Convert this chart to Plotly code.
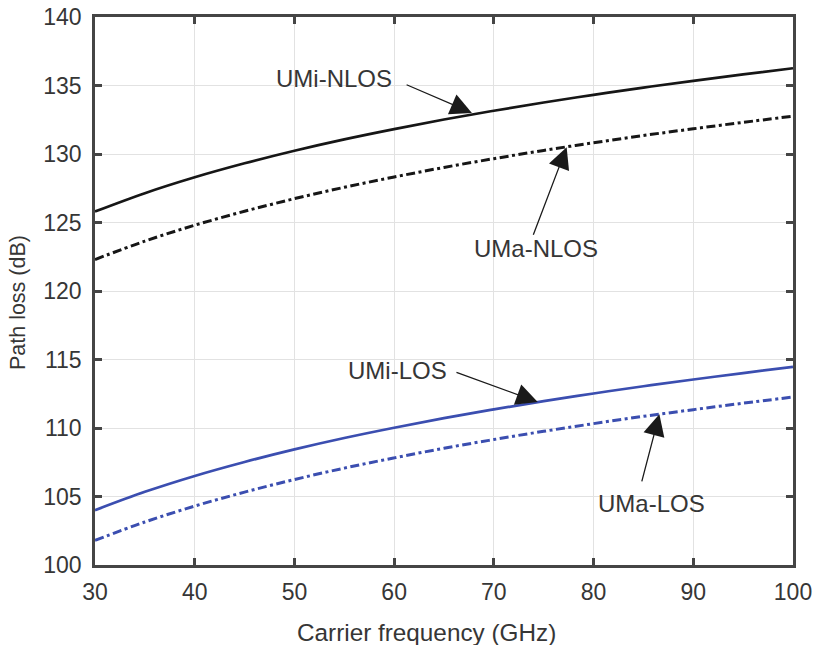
import plotly.graph_objects as go

# Carrier frequency (GHz)
freq = [30, 35, 40, 45, 50, 55, 60, 65, 70, 75, 80, 85, 90, 95, 100]

# Path loss (dB) for each scenario
umi_nlos = [125.80, 127.14, 128.30, 129.32, 130.24, 131.07, 131.82, 132.52, 133.16, 133.76, 134.32, 134.85, 135.34, 135.81, 136.26]
uma_nlos = [122.30, 123.64, 124.80, 125.82, 126.74, 127.57, 128.32, 129.02, 129.66, 130.26, 130.82, 131.35, 131.84, 132.31, 132.76]
umi_los = [104.00, 105.34, 106.50, 107.52, 108.44, 109.27, 110.02, 110.72, 111.36, 111.96, 112.52, 113.05, 113.54, 114.01, 114.46]
uma_los = [101.80, 103.14, 104.30, 105.32, 106.24, 107.07, 107.82, 108.52, 109.16, 109.76, 110.32, 110.85, 111.34, 111.81, 112.26]

# Curve labels
label_text = ["UMi-NLOS", "UMa-NLOS", "UMi-LOS", "UMa-LOS"]
label_x = [54.0, 74.2, 60.3, 85.8]
label_y = [135.5, 123.1, 114.2, 104.5]

# Pointer arrows: tail (near label) and tip (on the curve)
arrow_tail_x = [61.1, 73.9, 66.1, 84.8]
arrow_tail_y = [135.1, 124.0, 114.1, 106.0]
arrow_tip_x = [67.8, 77.3, 74.4, 86.6]
arrow_tip_y = [133.0, 130.5, 111.9, 111.0]

BLACK = "#161616"
BLUE = "#3b4eb0"
DASHDOT = "9px,3.5px,3px,3.5px"
TEXT = "#363636"
FONT = "Liberation Sans, Arial, sans-serif"

fig = go.Figure()
fig.add_trace(go.Scatter(x=freq, y=umi_nlos, mode="lines", line=dict(color=BLACK, width=2.7, shape="spline")))
fig.add_trace(go.Scatter(x=freq, y=uma_nlos, mode="lines", line=dict(color=BLACK, width=3, dash=DASHDOT, shape="spline")))
fig.add_trace(go.Scatter(x=freq, y=umi_los, mode="lines", line=dict(color=BLUE, width=2.7, shape="spline")))
fig.add_trace(go.Scatter(x=freq, y=uma_los, mode="lines", line=dict(color=BLUE, width=3, dash=DASHDOT, shape="spline")))

for tx, ty, hx, hy in zip(arrow_tail_x, arrow_tail_y, arrow_tip_x, arrow_tip_y):
    fig.add_annotation(
        x=hx, y=hy, ax=tx, ay=ty, axref="x", ayref="y", xref="x", yref="y",
        text="", showarrow=True, arrowhead=2, arrowsize=3.3, arrowwidth=1.3,
        arrowcolor="#1a1a1a",
    )

for text, lx, ly in zip(label_text, label_x, label_y):
    fig.add_annotation(
        x=lx, y=ly, xref="x", yref="y", text=text, showarrow=False,
        font=dict(family=FONT, size=24, color=TEXT),
    )

# Axis titles
fig.add_annotation(
    x=0.4756, y=-0.1223, xref="paper", yref="paper", xanchor="center", yanchor="middle",
    text="Carrier frequency (GHz)", showarrow=False,
    font=dict(family=FONT, size=24.3, color=TEXT),
)
fig.add_annotation(
    x=-0.1103, y=0.478, xref="paper", yref="paper", xanchor="center", yanchor="middle",
    text="Path loss (dB)", textangle=-90, showarrow=False,
    font=dict(family=FONT, size=21.5, color=TEXT),
)

axis_common = dict(
    showline=True, linecolor="#454545", linewidth=2.5, mirror="ticks",
    ticks="inside", ticklen=7, tickwidth=2.5, tickcolor="#454545",
    showgrid=True, gridcolor="#e2e2e2", gridwidth=1.4, zeroline=False,
    tickfont=dict(family=FONT, size=23, color=TEXT),
)

fig.update_xaxes(range=[30, 100], tickvals=list(range(30, 101, 10)), ticklabelstandoff=5, **axis_common)
fig.update_yaxes(range=[100, 140], tickvals=list(range(100, 141, 5)), ticklabelstandoff=6, **axis_common)

fig.update_layout(
    width=815, height=645, showlegend=False,
    paper_bgcolor="white", plot_bgcolor="white",
    margin=dict(l=95, r=22, t=17, b=80, autoexpand=False),
)

fig.write_html("out.html")
